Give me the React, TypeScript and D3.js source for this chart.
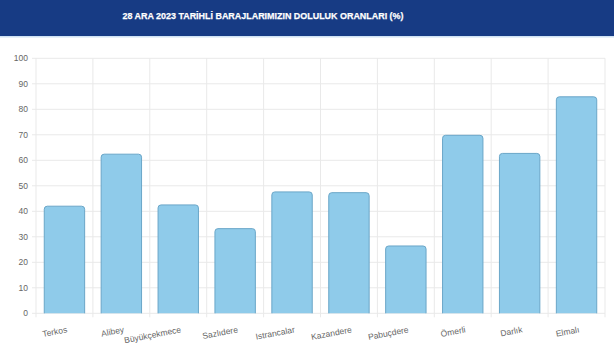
import React from "react";
import * as d3 from "d3";

const title = "28 ARA 2023 TARİHLİ BARAJLARIMIZIN DOLULUK ORANLARI (%)";
const categories = ["Terkos", "Alibey", "Büyükçekmece", "Sazlıdere", "Istrancalar", "Kazandere", "Pabuçdere", "Ömerli", "Darlık", "Elmalı"];
const values = [42.0, 62.4, 42.5, 33.2, 47.6, 47.3, 26.4, 69.8, 62.7, 84.9];
const yTicks = [0, 10, 20, 30, 40, 50, 60, 70, 80, 90, 100];

const W = 614, H = 357;
const left = 36, right = 605, top = 58.3, bottom = 313.3;

export default function App() {
  const x = d3.scaleBand<string>().domain(categories).range([left, right]).paddingInner(0).paddingOuter(0);
  const y = d3.scaleLinear().domain([0, 100]).range([bottom, top]);
  const bw = x.bandwidth() * 0.71;
  const r = 3;
  const barPath = (cx: number, v: number) => {
    const x0 = cx - bw / 2, x1 = cx + bw / 2, y0 = y(v), y1 = y(0);
    return `M${x0},${y1}V${y0 + r}Q${x0},${y0} ${x0 + r},${y0}H${x1 - r}Q${x1},${y0} ${x1},${y0 + r}V${y1}`;
  };
  const font = "'Liberation Sans', Arial, sans-serif";
  return (
    <svg width={W} height={H} style={{ position: "absolute", left: 0, top: 0, background: "#fff" }}>
      <rect x={0} y={0} width={W} height={36} fill="#173b84" />
      <rect x={0} y={36} width={W} height={1.5} fill="#cfe2f4" />
      <text x={263} y={19.3} textAnchor="middle" fill="#fff" fontFamily={font} fontWeight="bold" fontSize={9.8} textLength={281} lengthAdjust="spacingAndGlyphs" stroke="#fff" strokeWidth={0.25}>{title}</text>
      {yTicks.map(t => (
        <g key={t}>
          <line x1={left - 4} x2={right} y1={y(t)} y2={y(t)} stroke="#e9e9e9" strokeWidth={1} />
          <text x={28} y={y(t)} dy="0.35em" textAnchor="end" fill="#666" fontFamily={font} fontSize={8.5}>{t}</text>
        </g>
      ))}
      {categories.map((c) => (
        <line key={c} x1={x(c)!} x2={x(c)!} y1={top} y2={bottom + 4} stroke="#e9e9e9" strokeWidth={1} />
      ))}
      <line x1={right} x2={right} y1={top} y2={bottom + 4} stroke="#e9e9e9" strokeWidth={1} />
      {categories.map((c, i) => {
        const cx = x(c)! + x.bandwidth() / 2;
        return (
          <g key={c}>
            <path d={barPath(cx, values[i])} fill="#8fcbea" stroke="#6aa6c8" strokeWidth={1} />
            <text transform={`translate(${cx + 2},${bottom + 13}) rotate(-11)`} dy="0.71em" textAnchor="end" fill="#666" fontFamily={font} fontSize={8.5}>{c}</text>
          </g>
        );
      })}
    </svg>
  );
}
